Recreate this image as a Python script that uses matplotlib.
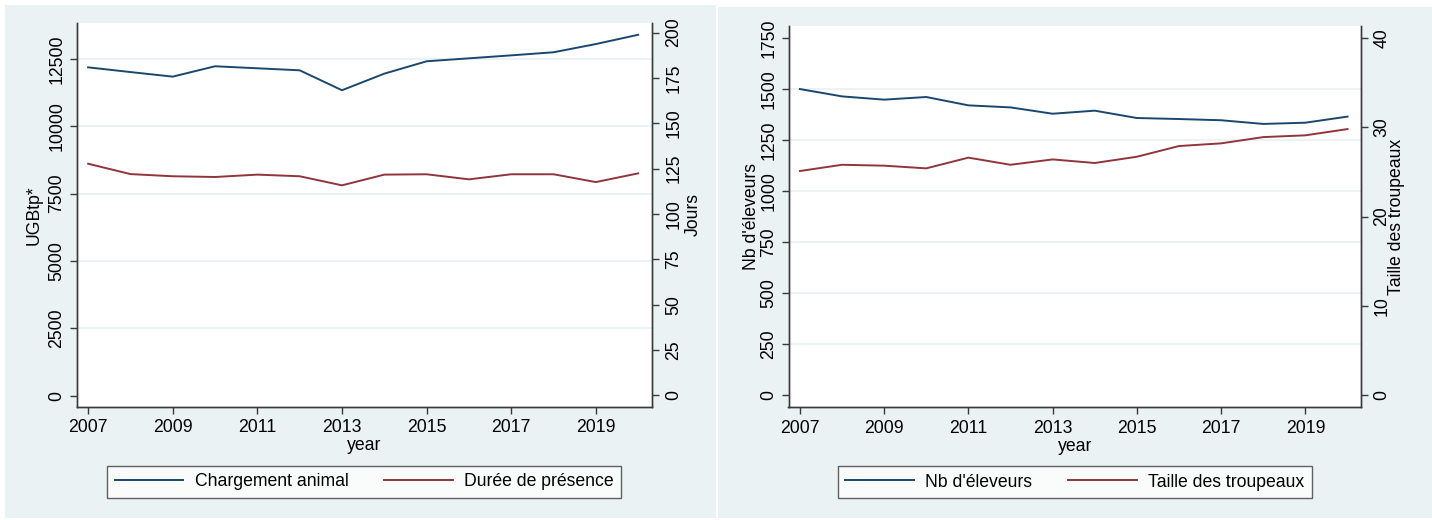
import numpy as np
import matplotlib.pyplot as plt
from matplotlib.patches import Rectangle

years = list(range(2007, 2021))
year_ticks = [2007, 2009, 2011, 2013, 2015, 2017, 2019]

# panneau gauche
chargement = [12190, 12015, 11845, 12230, 12155, 12080, 11340, 11955, 12415, 12525, 12635, 12750, 13055, 13400]
duree = [127.7, 122.0, 120.8, 120.4, 121.7, 120.8, 115.8, 121.7, 121.9, 119.1, 121.9, 121.9, 117.6, 122.4]

# panneau droit
eleveurs = [1500, 1464, 1448, 1461, 1420, 1410, 1379, 1394, 1358, 1353, 1347, 1329, 1335, 1365]
taille = [25.1, 25.8, 25.7, 25.4, 26.6, 25.8, 26.4, 26.0, 26.7, 27.9, 28.2, 28.9, 29.1, 29.8]

bg = '#eaf2f3'
navy = '#1a476f'
maroon = '#90353b'
axcol = '#3a3a3a'

plt.rcParams['font.family'] = ['Liberation Sans', 'DejaVu Sans']
plt.rcParams['font.size'] = 12.7

W, H = 1432, 520
fig = plt.figure(figsize=(W / 100, H / 100), dpi=100)
fig.patch.set_facecolor('white')

# fonds gris-bleu (graph region Stata)
fig.patches.append(Rectangle((5 / W, 2 / H), 711 / W, 513 / H, transform=fig.transFigure,
                             facecolor=bg, edgecolor='none', zorder=-10))
fig.patches.append(Rectangle((718 / W, 2 / H), 714 / W, 511 / H, transform=fig.transFigure,
                             facecolor=bg, edgecolor='none', zorder=-10))


def make_panel(x0, x1, ytop, ybot, ylim1, ylim2, ticks1, ticks2, grid, s1, s2,
               lab1, lab2, name1, name2, lab1_x, lab2_x, pads):
    ax = fig.add_axes([x0 / W, (H - ybot) / H, (x1 - x0) / W, (ybot - ytop) / H])
    ax.set_facecolor('white')
    ax2 = ax.twinx()
    for g in grid:
        ax.axhline(g, color=bg, lw=1.3, zorder=0)
    l1, = ax.plot(years, s1, color=navy, lw=1.4, label=name1, zorder=3)
    l2, = ax2.plot(years, s2, color=maroon, lw=1.4, label=name2, zorder=3)

    ax.set_xlim(2006.73, 2020.32)
    ax.set_xticks(year_ticks)
    ax.set_ylim(*ylim1)
    ax.set_yticks(ticks1)
    ax2.set_ylim(*ylim2)
    ax2.set_yticks(ticks2)

    for a in (ax, ax2):
        a.spines['top'].set_visible(False)
        for s in ('left', 'right', 'bottom'):
            a.spines[s].set_color(axcol)
            a.spines[s].set_linewidth(1.0)
        a.tick_params(colors=axcol, labelcolor='black', length=5, width=1.0)
    ax.tick_params(axis='x', pad=4.2)
    ax.tick_params(axis='y', labelrotation=90, pad=pads[0])
    ax2.tick_params(axis='y', labelrotation=90, pad=pads[1])
    for t in ax.get_yticklabels() + ax2.get_yticklabels():
        t.set_va('center')

    ax.set_xlabel('year', labelpad=0.5)
    ax.set_ylabel(lab1)
    ax2.set_ylabel(lab2)
    ax.yaxis.set_label_coords(lab1_x, 0.5)
    ax2.yaxis.set_label_coords(lab2_x, 0.5)

    leg = ax.legend([l1, l2], [name1, name2], loc='center', bbox_to_anchor=(0.5, -0.196),
                    ncol=2, frameon=True, fancybox=False, handlelength=3.9,
                    handletextpad=0.65, columnspacing=2.0, borderpad=0.42)
    leg.get_frame().set_edgecolor(axcol)
    leg.get_frame().set_linewidth(1.0)
    return ax, ax2


make_panel(76.7, 651.7, 23.3, 406.7, (-416, 13826), (-6.2, 205.1),
           [0, 2500, 5000, 7500, 10000, 12500], [0, 25, 50, 75, 100, 125, 150, 175, 200],
           [2500, 5000, 7500, 10000, 12500], chargement, duree,
           'UGBtp*', 'Jours', 'Chargement animal', 'Durée de présence',
           -0.0585, 1.0576, (3.2, 5.0))

make_panel(788.5, 1361, 26, 407.3, (-60, 1809), (-60 * 40 / 1750, 1809 * 40 / 1750),
           [0, 250, 500, 750, 1000, 1250, 1500, 1750], [0, 10, 20, 30, 40],
           [250, 500, 750, 1000, 1250, 1500], eleveurs, taille,
           "Nb d'éleveurs", 'Taille des troupeaux', "Nb d'éleveurs", 'Taille des troupeaux',
           -0.0503, 1.048, (3.0, 3.8))

fig.savefig('out.png', dpi=100, facecolor=fig.get_facecolor())
